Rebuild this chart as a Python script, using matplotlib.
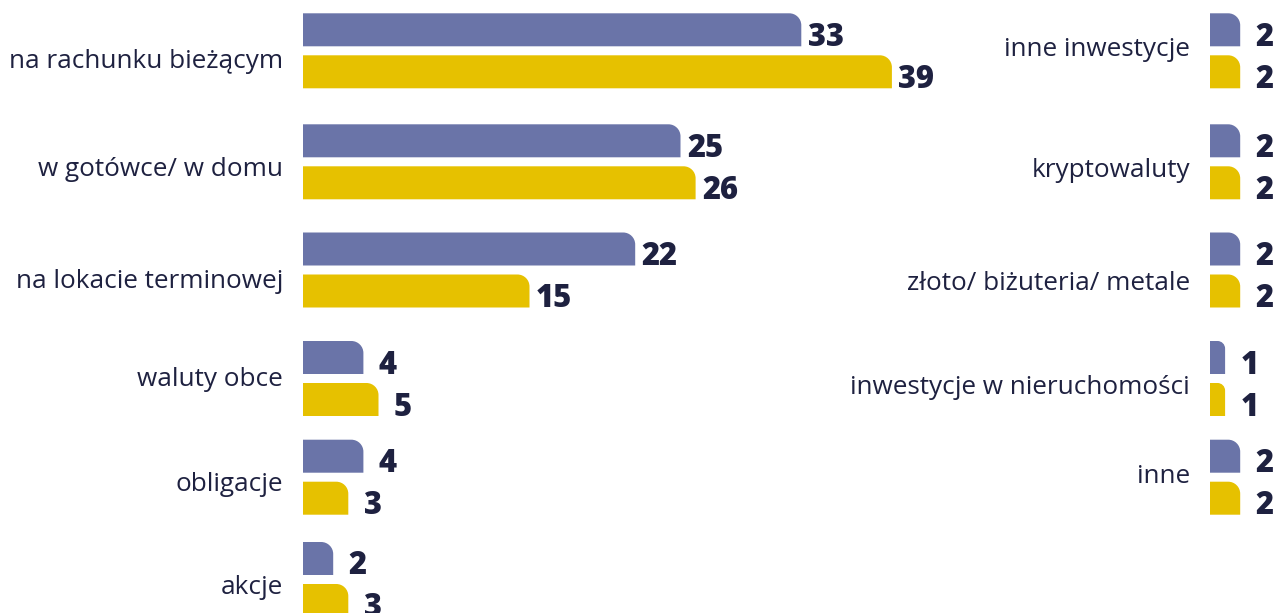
import matplotlib
matplotlib.use("Agg")
import matplotlib.pyplot as plt
from matplotlib.path import Path
from matplotlib.patches import PathPatch

# ---------------- data ----------------
left_categories = ["na rachunku bieżącym", "w gotówce/ w domu", "na lokacie terminowej",
                   "waluty obce", "obligacje", "akcje"]
left_blue = [33, 25, 22, 4, 4, 2]
left_yellow = [39, 26, 15, 5, 3, 3]

right_categories = ["inne inwestycje", "kryptowaluty", "złoto/ biżuteria/ metale",
                    "inwestycje w nieruchomości", "inne"]
right_blue = [2, 2, 2, 1, 2]
right_yellow = [2, 2, 2, 1, 2]

# ---------------- layout / style ----------------
W, H, DPI = 1276, 613, 100
PX_PER_UNIT = 15.1
BAR_H = 33
BAR_OFF = 21
row_y = [50.8, 161.8, 270.0, 378.5, 477.2, 579.5]
left_label_base = [68.4, 176.0, 288.5, 385.7, 490.7, 594.2]
right_label_base = [55.5, 176.7, 289.5, 393.5, 483.2]
BLUE = "#6a74a8"
YELLOW = "#e6c100"
TEXT = "#1e2140"
LABEL_FONT = ["Open Sans", "DejaVu Sans"]
NUM_FONT = ["Open Sans", "DejaVu Sans"]

fig = plt.figure(figsize=(W / DPI, H / DPI), dpi=DPI)
fig.patch.set_facecolor("white")

L_X0, L_W = 303, 900
R_X0, R_W = 1210, 66
axL = fig.add_axes([L_X0 / W, 0, L_W / W, 1])
axR = fig.add_axes([R_X0 / W, 0, R_W / W, 1])
for ax, wpx in ((axL, L_W), (axR, R_W)):
    ax.set_xlim(0, wpx / PX_PER_UNIT)
    ax.set_ylim(H, 0)
    ax.axis("off")

K = 0.5523


def rounded_bar(ax, value, yc, color):
    r_px = min(12.0, value * PX_PER_UNIT / 2.0)
    rx = r_px / PX_PER_UNIT
    ry = r_px
    yt = yc - BAR_H / 2
    yb = yc + BAR_H / 2
    verts = [(0, yb), (value, yb), (value, yt + ry),
             (value, yt + ry - K * ry), (value - rx + K * rx, yt), (value - rx, yt),
             (0, yt), (0, yb)]
    codes = [Path.MOVETO, Path.LINETO, Path.LINETO,
             Path.CURVE4, Path.CURVE4, Path.CURVE4,
             Path.LINETO, Path.CLOSEPOLY]
    ax.add_patch(PathPatch(Path(verts, codes), facecolor=color, edgecolor="none",
                           clip_on=False))
    ax.annotate(str(value), xy=(value, yb - 0.5), xytext=(24.5 * 72 / DPI, 0),
                textcoords="offset points", ha="center", va="baseline",
                fontsize=22.2, fontweight=800, family=NUM_FONT, color=TEXT,
                annotation_clip=False)


# fit category label font size to reference width
renderer = fig.canvas.get_renderer()
probe = fig.text(0, 0, left_categories[0], fontsize=16, family=LABEL_FONT)
wprobe = probe.get_window_extent(renderer).width
probe.remove()
label_size = 16 * 273.4 / wprobe


def draw_panel(ax, cats, blue, yellow, bases):
    for i, cat in enumerate(cats):
        rounded_bar(ax, blue[i], row_y[i] - BAR_OFF, BLUE)
        rounded_bar(ax, yellow[i], row_y[i] + BAR_OFF, YELLOW)
        ax.annotate(cat, xy=(0, bases[i]), xytext=(-20 * 72 / DPI, 0),
                    textcoords="offset points", ha="right", va="baseline",
                    fontsize=label_size, family=LABEL_FONT, color=TEXT,
                    annotation_clip=False)


draw_panel(axL, left_categories, left_blue, left_yellow, left_label_base)
draw_panel(axR, right_categories, right_blue, right_yellow, right_label_base)

fig.savefig("out.png", dpi=DPI, facecolor="white")
